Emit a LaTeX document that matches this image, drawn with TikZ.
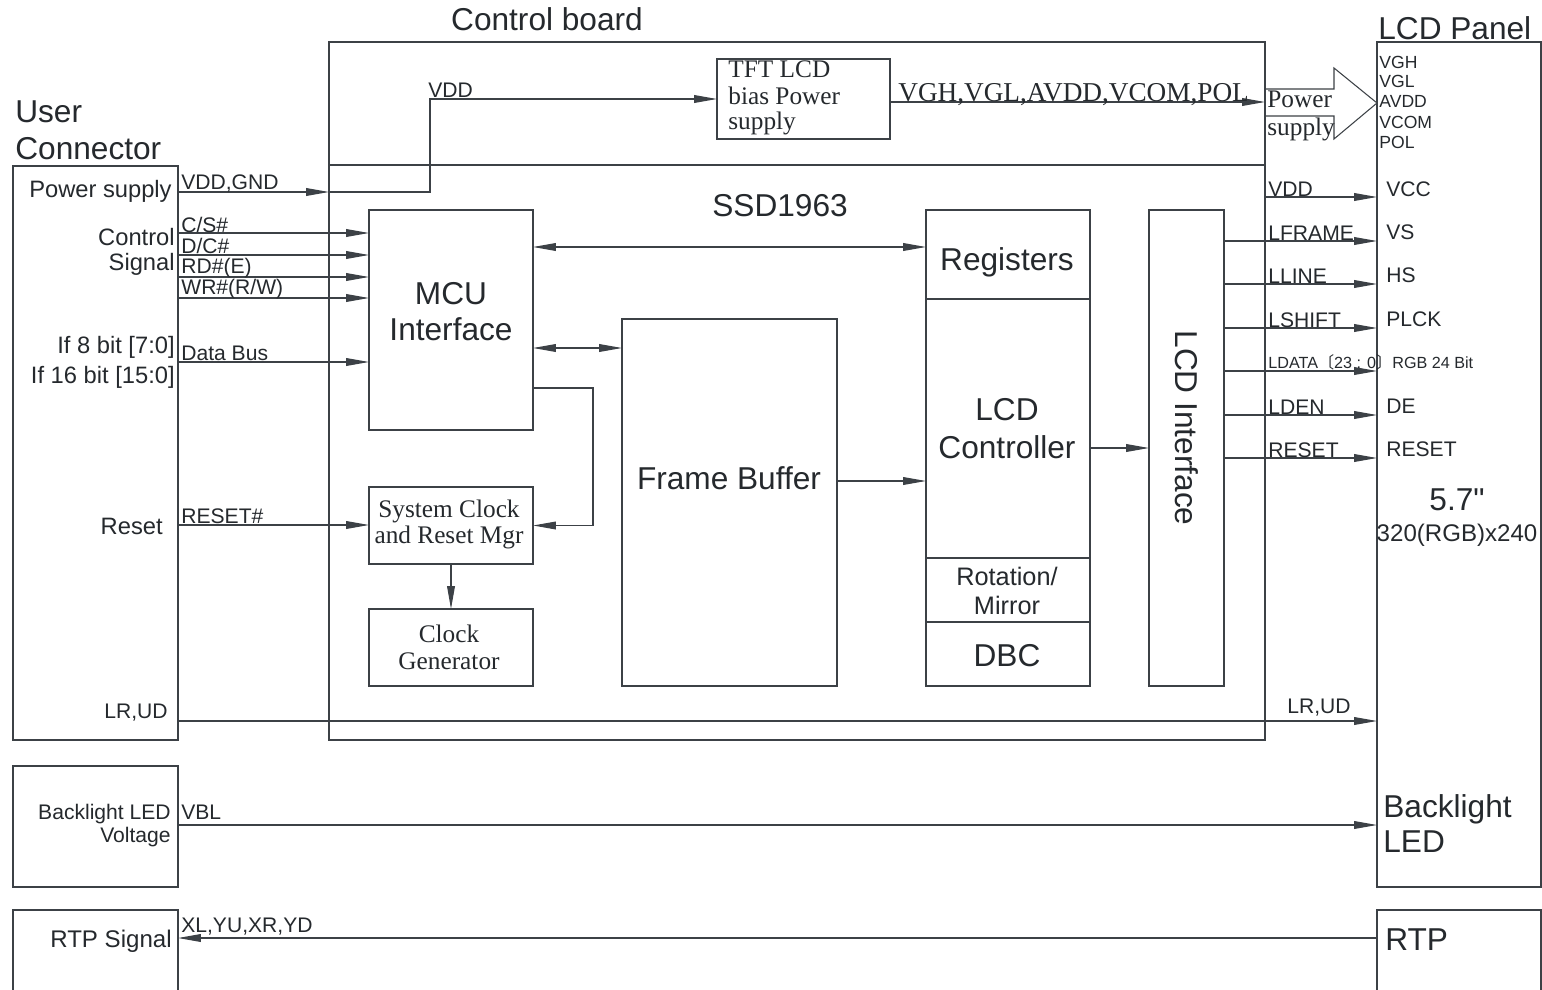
\documentclass[tikz,border=0pt]{standalone}
\usepackage{fontspec}
\setmainfont{Liberation Sans}
\newfontfamily\tmsfont{Liberation Serif}
\newfontfamily\cjk{Noto Sans CJK SC}
\usetikzlibrary{arrows.meta,fit,positioning}
\definecolor{ink}{HTML}{25292D}
\definecolor{wire}{HTML}{3C4146}
\newcommand\fsz[1]{\fontsize{#1}{#1}\selectfont}

\begin{document}
\begin{tikzpicture}[x=0.02cm,y=-0.02cm,
  >={Triangle[length=13pt,width=4.4pt]},
  every node/.style={text=ink},
  blk/.style={draw=wire,line width=0.8pt,inner sep=0pt,outer sep=0pt},
  sig/.style={draw=wire,line width=0.6pt},
  bigtxt/.style={font=\fsz{18},inner sep=0pt},
  midtxt/.style={font=\fsz{14.4},inner sep=0pt},
  sidelbl/.style={font=\fsz{13.5},anchor=base east,inner sep=0pt},
  pinlbl/.style={font=\fsz{12},anchor=base west,inner sep=0pt},
  raillbl/.style={font=\fsz{10},anchor=base west,inner sep=0pt},
  serif/.style={font=\tmsfont\fsz{14.4},inner sep=0pt},
]
  \clip (0,0) rectangle (1542,990);
  \fill[white] (0,0) rectangle (1542,990);

  % outer blocks
  \node[blk,fit={(13,166)(178,740)}] (uc) {};
  \node[blk,fit={(13,766)(178,887)}] (blv) {};
  \node[blk,fit={(13,910)(178,1000)}] (rtps) {};
  \node[blk,fit={(329,42)(1265,165)}] (cbtop) {};
  \node[blk,fit={(329,165)(1265,740)}] (ssd) {};
  \node[blk,fit={(1377,42)(1541,887)}] (panel) {};
  \node[blk,fit={(1377,910)(1541,1000)}] (rtp) {};

  % blocks of the board
  \node[blk,fit={(717,59)(890,139)}] (tft) {};
  \node[blk,fit={(369,210)(533,430)}] (mcu) {};
  \node[blk,fit={(369,487)(533,564)}] (scr) {};
  \node[blk,fit={(369,609)(533,686)}] (clk) {};
  \node[blk,fit={(622,319)(837,686)}] (fb) {};
  \node[blk,fit={(926,210)(1090,299)}] (reg) {};
  \node[blk,fit={(926,299)(1090,558)}] (lcdc) {};
  \node[blk,fit={(926,558)(1090,622)}] (rot) {};
  \node[blk,fit={(926,622)(1090,686)}] (dbc) {};
  \node[blk,fit={(1149,210)(1224,686)}] (lif) {};

  % titles
  \node[bigtxt,anchor=base] (cbt) at (547,31) {Control board};
  \node[bigtxt,anchor=base west] (uct1) at (15,123) {User};
  \node[bigtxt,anchor=base west] (uct2) at (15,159) {Connector};
  \node[bigtxt,anchor=base west] (lpt) at (1378,40) {LCD Panel};
  \node[bigtxt,anchor=base] (ssdt) at (780,216) {SSD1963};
  \node[bigtxt,anchor=base] (mcut1) at (451,304) {MCU};
  \node[bigtxt,anchor=base] (mcut2) at (451,340) {Interface};
  \node[bigtxt,anchor=base] (fbt) at (729,489) {Frame Buffer};
  \node[bigtxt,anchor=base] (regt) at (1007,270) {Registers};
  \node[bigtxt,anchor=base] (lcdct1) at (1007,420) {LCD};
  \node[bigtxt,anchor=base] (lcdct2) at (1007,458) {Controller};
  \node[midtxt,anchor=base] (rott1) at (1007,585) {Rotation/};
  \node[midtxt,anchor=base] (rott2) at (1007,614) {Mirror};
  \node[bigtxt,anchor=base] (dbct) at (1007,666) {DBC};
  \node[bigtxt,rotate=-90] (lift) at (1187,428) {LCD Interface};

  \node[serif,anchor=base west] (tftt1) at (728,78) {TFT LCD};
  \node[serif,anchor=base west] (tftt2) at (728,105) {bias Power};
  \node[serif,anchor=base west] (tftt3) at (728,130) {supply};
  \node[serif,anchor=base] (scrt1) at (449,517) {System Clock};
  \node[serif,anchor=base] (scrt2) at (449,543) {and Reset Mgr};
  \node[serif,anchor=base] (clkt1) at (449,642) {Clock};
  \node[serif,anchor=base] (clkt2) at (449,669) {Generator};

  % power path
  \draw[sig,->] (uc.east |- 0,192) -- (ssd.west |- 0,192);
  \draw[sig,->] (ssd.west |- 0,192) -- (430,192) |- (tft.west);
  \node[pinlbl] (vddgnd) at (181,190) {VDD,GND};
  \node[pinlbl] (vddin) at (428,98) {VDD};
  \draw[sig,->] (tft.east |- 0,102) -- (cbtop.east |- 0,102);
  \node[serif,font=\tmsfont\fsz{15.5},anchor=base west] (biasout) at (898,102) {VGH,VGL,AVDD,VCOM,POL};
  \draw[sig] (cbtop.east |- 0,89) -- (1334,89) -- (1334,68) -- (panel.west |- 0,103)
    -- (1334,139) -- (1334,116) -- (cbtop.east |- 0,116);
  \node[serif,anchor=base west] (pwt1) at (1267,108) {Power};
  \node[serif,anchor=base west] (pwt2) at (1267,135) {supply};
  \foreach \t/\y [count=\i] in {VGH/69,VGL/88,AVDD/108,VCOM/129,POL/149}
    \node[raillbl] (rail\i) at (1379,\y) {\t};

  % user connector side
  \node[sidelbl] (ucps) at (172,197) {Power supply};
  \node[sidelbl] (uccs1) at (175,245) {Control};
  \node[sidelbl] (uccs2) at (175,270) {Signal};
  \node[sidelbl] (ucdb1) at (175,353) {If 8 bit [7:0]};
  \node[sidelbl] (ucdb2) at (175,383) {If 16 bit [15:0]};
  \node[sidelbl] (ucrst) at (163,534) {Reset};
  \foreach \t/\y/\b [count=\i] in {{C/S\#}/233/232,{D/C\#}/255/253,{RD\#(E)}/277/273,{WR\#(R/W)}/298/294}{
    \draw[sig,->] (uc.east |- 0,\y) -- (mcu.west |- 0,\y);
    \node[pinlbl] (ctl\i) at (181,\b) {\t};
  }
  \draw[sig,->] (uc.east |- 0,362) -- (mcu.west |- 0,362);
  \node[pinlbl] (dbus) at (181,360) {Data Bus};
  \draw[sig,->] (uc.east |- 0,525) -- (scr.west |- 0,525);
  \node[pinlbl] (rstn) at (181,523) {RESET\#};

  % inside SSD1963
  \draw[sig,<->] (mcu.east |- 0,247) -- (reg.west |- 0,247);
  \draw[sig,<->] (mcu.east |- 0,348) -- (fb.west |- 0,348);
  \draw[sig,->] (mcu.east |- 0,388) -- (593,388) |- (scr.east);
  \draw[sig,->] (scr.south) -- (clk.north);
  \draw[sig,->] (fb.east |- 0,481) -- (lcdc.west |- 0,481);
  \draw[sig,->] (lcdc.east |- 0,448) -- (lif.west |- 0,448);

  % LCD side
  \draw[sig,->] (ssd.east |- 0,197) -- (panel.west |- 0,197);
  \node[pinlbl] (vddo) at (1268,196) {VDD};
  \node[pinlbl] (vcc) at (1386,196) {VCC};
  \foreach \s/\p/\y [count=\i] in {LFRAME/VS/241,LLINE/HS/284,LSHIFT/PLCK/328,LDEN/DE/415,RESET/RESET/458}{
    \draw[sig,->] (lif.east |- 0,\y) -- (panel.west |- 0,\y);
    \node[pinlbl] (so\i) at (1268,\y-1) {\s};
    \node[pinlbl] (pi\i) at (1386,\y-1.5) {\p};
  }
  \draw[sig,->] (lif.east |- 0,371) -- (panel.west |- 0,371);
  \node[pinlbl,font=\fsz{9.2}] (ldata) at (1268,368) {LDATA{\cjk 〔}23 : 0{\cjk 〕}RGB 24 Bit};

  \draw[sig,->] (uc.east |- 0,721) -- (panel.west |- 0,721);
  \node[pinlbl,anchor=base east] (lrl) at (168,718) {LR,UD};
  \node[pinlbl] (lrr) at (1287,713) {LR,UD};

  \node[bigtxt] (size1) at (1457,500) {5.7\textquotedbl};
  \node[sidelbl,font=\fsz{13.7},anchor=base] (size2) at (1457,541) {320(RGB)x240};

  % backlight and touch
  \node[pinlbl,anchor=base east] (blt1) at (171,819) {Backlight LED};
  \node[pinlbl,anchor=base east] (blt2) at (171,842) {Voltage};
  \draw[sig,->] (blv.east |- 0,825) -- (panel.west |- 0,825);
  \node[pinlbl] (vbl) at (181,819) {VBL};
  \node[bigtxt,anchor=base west] (bled1) at (1383,817) {Backlight};
  \node[bigtxt,anchor=base west] (bled2) at (1383,852) {LED};

  \node[sidelbl,font=\fsz{13.7}] (rtpst) at (172,947) {RTP Signal};
  \draw[sig,->] (rtp.west |- 0,938) -- (rtps.east |- 0,938);
  \node[pinlbl] (xy) at (181,932) {XL,YU,XR,YD};
  \node[bigtxt,anchor=base west] (rtpt) at (1385,950) {RTP};
\end{tikzpicture}
\end{document}
